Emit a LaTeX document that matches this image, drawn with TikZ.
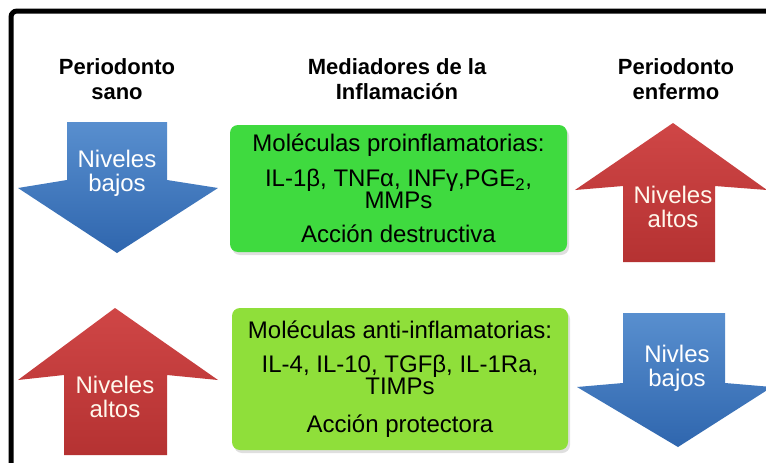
\documentclass[tikz,border=0pt]{standalone}
\usepackage{fontspec}
\setmainfont{Liberation Sans}
\usetikzlibrary{shadows}

\definecolor{lowblue}{HTML}{3B7BC6}
\definecolor{lowbluedk}{HTML}{2F66AE}
\definecolor{highred}{HTML}{CF4646}
\definecolor{highreddk}{HTML}{B53232}
\definecolor{progreen}{HTML}{3FDA3F}
\definecolor{antigreen}{HTML}{8FDF3A}
\definecolor{levtext}{HTML}{FFF8EC}

\begin{document}
\begin{tikzpicture}[x=1pt, y=-1pt,
  header/.style={font=\fontsize{22}{25}\selectfont\bfseries, align=center},
  level/.style={font=\fontsize{24}{24}\selectfont, align=center},
  medbox/.style={rounded corners=8pt, align=center, inner sep=0pt,
    font=\fontsize{24}{22}\selectfont,
    drop shadow={shadow xshift=2pt, shadow yshift=-3pt, opacity=0.25}},
  lowarrow/.style={top color=lowblue!85!white, bottom color=lowbluedk},
  higharrow/.style={top color=highred, bottom color=highreddk}]

  % Page and frame
  \useasboundingbox (0,0) rectangle (766,463);
  \clip (0,0) rectangle (766,463);
  \fill[white] (0,0) rectangle (766,463);
  \draw[line width=5pt, rounded corners=6pt] (11,480) -- (11,11) -- (790,11);

  % Headers
  \node[header] (hsano) at (117,79.5) {Periodonto\\sano};
  \node[header] (hmed) at (397,79.5) {Mediadores de la\\Inflamación};
  \node[header] (henf) at (676,79.5) {Periodonto\\enfermo};

  % Upper row: arrows
  \shade[lowarrow] (67,122) -- (167,122) -- (167,180) -- (218,188)
    -- (117,253) -- (18,188) -- (67,180) -- cycle;
  \node[level, white] (sanoBajo) at (117,173) {Niveles\\bajos};

  \shade[higharrow] (673,123) -- (767,190) -- (715,186) -- (715,262)
    -- (623,262) -- (623,186) -- (575,190) -- cycle;
  \node[level, levtext] (enfAlto) at (673,207) {Niveles\\altos};

  % Upper row: box
  \node[medbox, fill=progreen, minimum width=337pt, minimum height=127pt]
    (proinf) at (398.5,188.5)
    {Moléculas proinflamatorias:\\[12pt]
     IL-1β, TNFα, INFγ,PGE\textsubscript{2},\\
     MMPs\\[12pt]
     Acción destructiva};

  % Lower row: arrows
  \shade[higharrow] (115,308) -- (218,380) -- (167,375) -- (167,455)
    -- (64,455) -- (64,375) -- (18,380) -- cycle;
  \node[level, levtext] (sanoAlto) at (115,397) {Niveles\\altos};

  \shade[lowarrow] (623,313) -- (725,313) -- (725,383) -- (772,387)
    -- (678,447) -- (577,387) -- (623,383) -- cycle;
  \node[level, white] (enfBajo) at (677,368) {Nivles\\bajos};

  % Lower row: box
  \node[medbox, fill=antigreen, minimum width=336pt, minimum height=142pt]
    (antiinf) at (400,379)
    {Moléculas anti-inflamatorias:\\[12pt]
     IL-4, IL-10, TGFβ, IL-1Ra,\\
     TIMPs\\[16pt]
     Acción protectora};
\end{tikzpicture}
\end{document}
